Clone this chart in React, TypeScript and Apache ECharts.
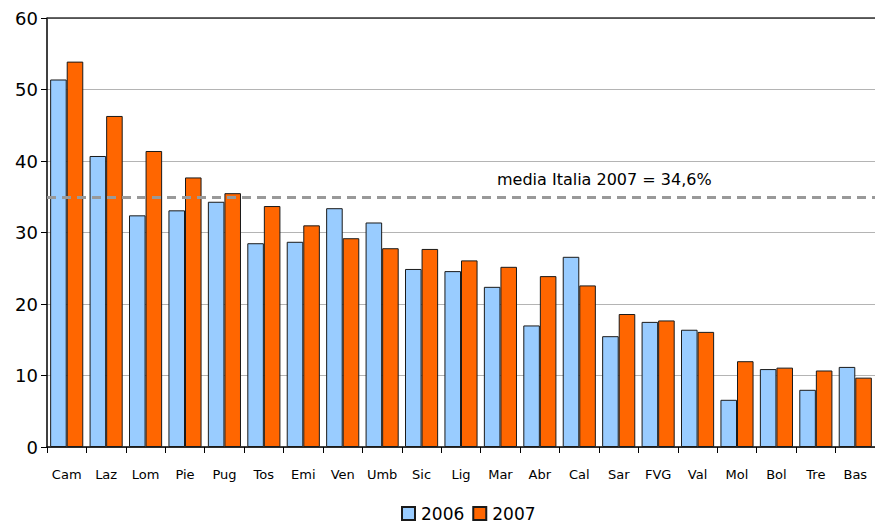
import React, { useEffect, useRef } from "react";
import * as echarts from "echarts";

const categories = ["Cam", "Laz", "Lom", "Pie", "Pug", "Tos", "Emi", "Ven", "Umb", "Sic", "Lig", "Mar", "Abr", "Cal", "Sar", "FVG", "Val", "Mol", "Bol", "Tre", "Bas"];
const values2006 = [51.4, 40.7, 32.4, 33.1, 34.3, 28.5, 28.7, 33.4, 31.4, 24.9, 24.6, 22.4, 17.0, 26.6, 15.5, 17.5, 16.4, 6.6, 10.9, 8.0, 11.2];
const values2007 = [53.9, 46.3, 41.4, 37.7, 35.5, 33.7, 31.0, 29.2, 27.8, 27.7, 26.1, 25.2, 23.9, 22.6, 18.6, 17.7, 16.1, 12.0, 11.1, 10.7, 9.7];
const seriesNames = ["2006", "2007"];
const averageLine = 34.9;
const averageLabel = "media Italia 2007 = 34,6%";
const yTicks = { min: 0, max: 60, interval: 10 };

const FONT = "'Comic Sans MS', 'DejaVu Sans', sans-serif";

export default function App() {
  const ref = useRef<HTMLDivElement>(null);
  useEffect(() => {
    if (!ref.current) return;
    const chart = echarts.init(ref.current, null, { renderer: "svg" });
    chart.setOption({
      animation: false,
      textStyle: { fontFamily: FONT },
      grid: { left: 47, right: 0, top: 18, bottom: 81 },
      legend: {
        bottom: 1,
        left: 396,
        itemWidth: 13,
        itemHeight: 13,
        itemGap: 8,
        icon: "rect",
        textStyle: { fontSize: 17, color: "#000", fontFamily: FONT, padding: [0, 0, 0, 1] },
        data: seriesNames,
      },
      xAxis: {
        type: "category",
        data: categories,
        axisLine: { lineStyle: { color: "#000", width: 1.5 } },
        axisTick: { show: true, length: 6, lineStyle: { color: "#000" } },
        axisLabel: { color: "#000", fontSize: 13, margin: 21, interval: 0, fontFamily: FONT },
      },
      yAxis: {
        type: "value",
        min: yTicks.min,
        max: yTicks.max,
        interval: yTicks.interval,
        axisLine: { show: true, lineStyle: { color: "#000", width: 1.5 } },
        axisTick: { show: true, length: 6, lineStyle: { color: "#000" } },
        axisLabel: { color: "#000", fontSize: 18, margin: 9, fontFamily: FONT },
        splitLine: { lineStyle: { color: "#b4b4b4", width: 1 } },
      },
      series: [
        {
          name: seriesNames[0],
          type: "bar",
          data: values2006,
          barGap: "0%",
          barCategoryGap: "16%",
          itemStyle: { color: "#99ccff", borderColor: "#1a1a1a", borderWidth: 1 },
          markLine: {
            symbol: "none",
            silent: true,
            label: { show: false },
            data: [
              { yAxis: averageLine, lineStyle: { color: "#999999", width: 3, type: [9, 6] } },
              { yAxis: yTicks.max, lineStyle: { color: "#333333", width: 1.5, type: "solid" } },
            ],
          },
        },
        {
          name: seriesNames[1],
          type: "bar",
          data: values2007,
          itemStyle: { color: "#ff6600", borderColor: "#1a1a1a", borderWidth: 1 },
        },
      ],
      graphic: [
        {
          type: "text",
          left: 497,
          top: 171,
          style: { text: averageLabel, fontSize: 16, fill: "#000", fontFamily: FONT },
        },
      ],
    });
    return () => chart.dispose();
  }, []);
  return <div ref={ref} style={{ width: 875, height: 528, position: "absolute", left: 0, top: 0 }} />;
}
